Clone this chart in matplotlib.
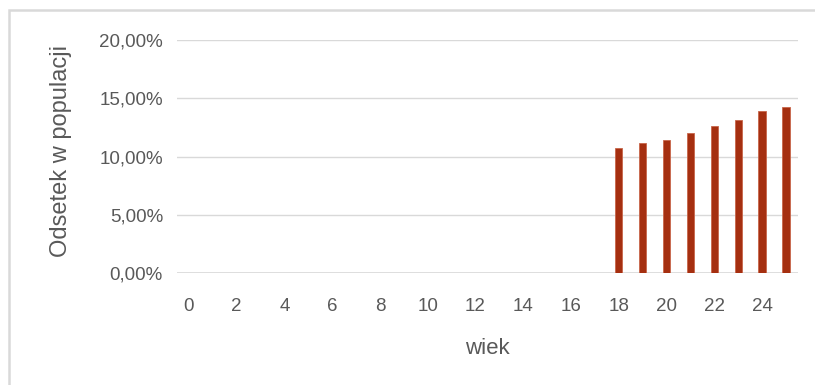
import matplotlib.pyplot as plt
from matplotlib.patches import Rectangle
from matplotlib.ticker import FuncFormatter

# Share of the population by age (percent), ages 0-25
ages = list(range(26))
shares = [0] * 18 + [10.74, 11.17, 11.39, 12.02, 12.58, 13.13, 13.90, 14.24]
tick_ages = list(range(0, 26, 2))

bar_color = "#A52F10"
text_color = "#595959"
grid_color = "#D9D9D9"
font = "Liberation Sans"

fig = plt.figure(figsize=(8.15, 3.85), dpi=100)
ax = fig.add_axes([0.217, 0.291, 0.762, 0.605])

ax.bar(ages, shares, width=0.3, color=bar_color, edgecolor="#C8654A",
       linewidth=0.6, zorder=3)

ax.set_xlim(-0.5, 25.5)
ax.set_ylim(0, 20)
ax.set_yticks([0, 5, 10, 15, 20])
ax.yaxis.set_major_formatter(FuncFormatter(lambda v, p: f"{v:.2f}%".replace(".", ",")))
ax.set_xticks(tick_ages)
ax.set_xticklabels([str(a) for a in tick_ages])

ax.grid(axis="y", color=grid_color, linewidth=1.0, zorder=0)
for side in ["top", "right", "left", "bottom"]:
    ax.spines[side].set_visible(False)
ax.axhline(0, color=grid_color, linewidth=1.2, zorder=2)

ax.tick_params(axis="both", length=0, labelsize=13.5, colors=text_color)
ax.tick_params(axis="y", pad=10)
ax.tick_params(axis="x", pad=18)
for lbl in ax.get_xticklabels() + ax.get_yticklabels():
    lbl.set_fontfamily(font)

fig.text(487.5 / 815, 1 - 354 / 385, "wiek", fontsize=16, color=text_color,
         family=font, ha="center", va="baseline")
fig.text(61.5 / 815, 1 - 151 / 385, "Odsetek w populacji", fontsize=17,
         color=text_color, family=font, rotation=90, ha="center", va="center")

# light frame around the chart area
fig.patches.append(Rectangle((8.5 / 815, -0.05), 1.0, 1 - 10 / 385 + 0.05,
                             transform=fig.transFigure, fill=False,
                             edgecolor="#D9D9D9", linewidth=1.8))

fig.savefig("out.png", dpi=100)
plt.close(fig)
